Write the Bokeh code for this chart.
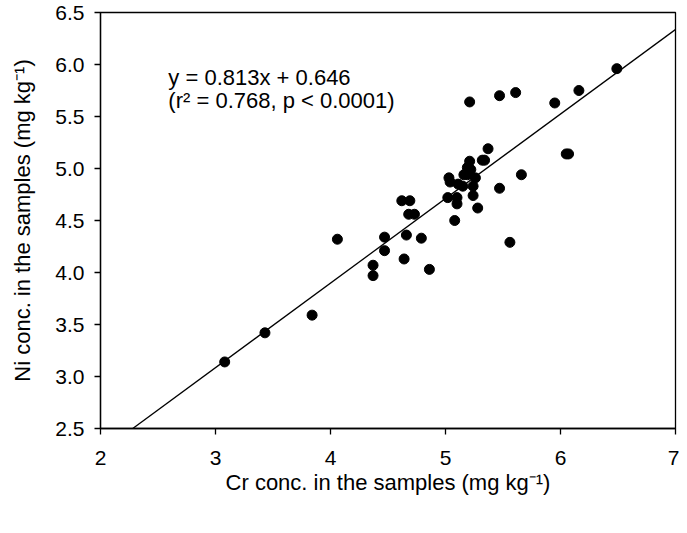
from bokeh.plotting import figure
from bokeh.models import FixedTicker, Slope, Label, CustomJSTickFormatter
from bokeh.embed import file_html
from bokeh.resources import INLINE

# Data
cr = [3.08, 3.43, 3.84, 4.06, 4.37, 4.37, 4.47, 4.47, 4.64, 4.66, 4.79, 4.86,
      4.62, 4.69, 4.68, 4.73, 5.08, 5.02, 5.10, 5.10, 5.03, 5.04, 5.11, 5.15,
      5.16, 5.19, 5.21, 5.24, 5.24, 5.26, 5.28, 5.32, 5.34, 5.37, 5.47, 5.56,
      5.66, 6.05, 6.07, 5.21, 5.47, 5.61, 5.95, 6.16, 6.49, 5.19, 5.22]
ni = [3.14, 3.42, 3.59, 4.32, 4.07, 3.97, 4.34, 4.21, 4.13, 4.36, 4.33, 4.03,
      4.69, 4.69, 4.56, 4.56, 4.50, 4.72, 4.72, 4.66, 4.91, 4.87, 4.85, 4.83,
      4.94, 5.01, 5.07, 4.83, 4.74, 4.91, 4.62, 5.08, 5.08, 5.19, 4.81, 4.29,
      4.94, 5.14, 5.14, 5.64, 5.70, 5.73, 5.63, 5.75, 5.96, 4.94, 4.99]

slope = 0.813
intercept = 0.646
eq_line1 = "y = 0.813x + 0.646"
eq_line2 = "(r\u00b2 = 0.768, p < 0.0001)"

x_ticks = [2, 3, 4, 5, 6, 7]
y_ticks = [2.5, 3.0, 3.5, 4.0, 4.5, 5.0, 5.5, 6.0, 6.5]

FONT = "Liberation Sans"

p = figure(width=679, height=525, x_range=(2, 7), y_range=(2.5, 6.5),
           output_backend="svg", toolbar_location=None,
           min_border_left=100, min_border_right=4, min_border_top=12,
           min_border_bottom=97)
p.grid.visible = False
p.outline_line_color = "black"
p.outline_line_width = 1.3
p.background_fill_color = "white"
p.border_fill_color = "white"

p.add_layout(Slope(gradient=slope, y_intercept=intercept,
                   line_color="black", line_width=1.3))
p.scatter(cr, ni, size=10, color="black")

p.xaxis.ticker = FixedTicker(ticks=x_ticks)
p.yaxis.ticker = FixedTicker(ticks=y_ticks)
p.yaxis.formatter = CustomJSTickFormatter(code="return tick.toFixed(1);")

for ax in (p.xaxis[0], p.yaxis[0]):
    ax.axis_line_color = "black"
    ax.axis_line_width = 1.3
    ax.major_tick_line_color = "black"
    ax.major_tick_line_width = 1.3
    ax.major_tick_out = 6
    ax.major_tick_in = 0
    ax.minor_tick_line_color = None
    ax.major_label_text_font = FONT
    ax.major_label_text_font_size = "21px"
    ax.major_label_text_color = "black"
    ax.axis_label_text_font = FONT
    ax.axis_label_text_font_size = "22px"
    ax.axis_label_text_font_style = "normal"
    ax.axis_label_text_color = "black"

p.xaxis.axis_label = "Cr conc. in the samples (mg kg\u207b\u00b9)"
p.yaxis.axis_label = "Ni conc. in the samples (mg kg\u207b\u00b9)"
p.xaxis.major_label_standoff = 16
p.yaxis.major_label_standoff = 10
p.xaxis.axis_label_standoff = 2
p.yaxis.axis_label_standoff = 17

p.add_layout(Label(x=2.59, y=6.00, text=eq_line1, text_font=FONT,
                   text_font_size="22px", text_color="black",
                   text_baseline="top"))
p.add_layout(Label(x=2.59, y=5.77, text=eq_line2, text_font=FONT,
                   text_font_size="22px", text_color="black",
                   text_baseline="top"))

open("out.html", "w").write(file_html(p, INLINE))
